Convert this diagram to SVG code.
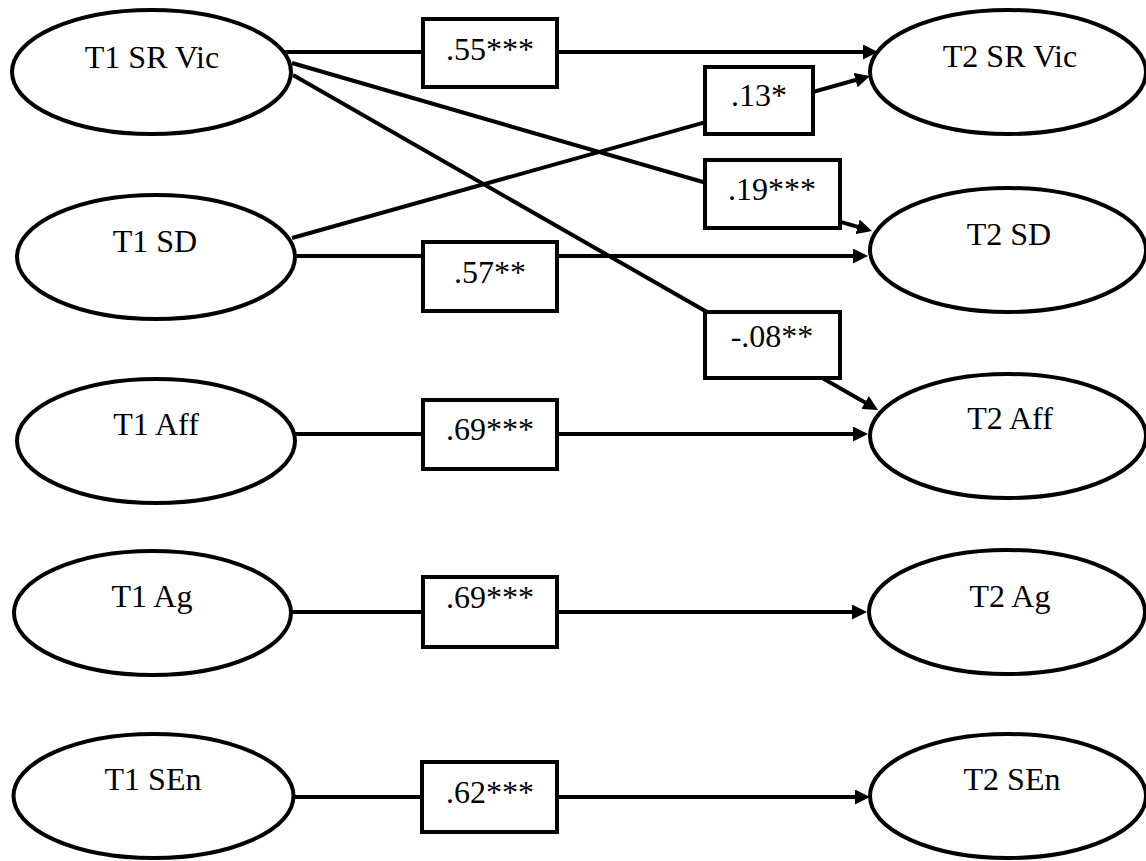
<svg xmlns="http://www.w3.org/2000/svg" width="1146" height="861" viewBox="0 0 1146 861">
<style>
.node{fill:#fff;stroke:#000;stroke-width:4}
.lbl{fill:#fff;stroke:#000;stroke-width:4}
.edge{stroke:#000;stroke-width:4;fill:none}
.t{font-family:'Liberation Serif','Times New Roman',Times,serif;font-size:32px;fill:#000;text-anchor:middle}
</style>
<defs>
<marker id="arr" viewBox="0 0 15 15" refX="1" refY="7.5" markerWidth="15" markerHeight="15" markerUnits="userSpaceOnUse" orient="auto">
<path d="M0,0 L15,7.5 L0,15 z" fill="#000"/>
</marker>
</defs>
<g id="connectors">
<line class="edge" x1="284" y1="52" x2="864" y2="52" marker-end="url(#arr)"/>
<line class="edge" x1="292" y1="63" x2="858.6" y2="227.1" marker-end="url(#arr)"/>
<line class="edge" x1="293" y1="75" x2="865.9" y2="403" marker-end="url(#arr)"/>
<line class="edge" x1="292" y1="238" x2="856.5" y2="79.8" marker-end="url(#arr)"/>
<line class="edge" x1="295" y1="256" x2="854" y2="256" marker-end="url(#arr)"/>
<line class="edge" x1="295" y1="434" x2="854" y2="434" marker-end="url(#arr)"/>
<line class="edge" x1="291" y1="612" x2="853" y2="612" marker-end="url(#arr)"/>
<line class="edge" x1="294" y1="797" x2="856" y2="797" marker-end="url(#arr)"/>
</g>
<g id="edge-labels">
<g id="lbl-55"><rect class="lbl" x="423" y="19" width="134" height="68"/><text class="t" x="490" y="60">.55***</text></g>
<g id="lbl-13"><rect class="lbl" x="705" y="67" width="108" height="67"/><text class="t" x="759" y="106">.13*</text></g>
<g id="lbl-19"><rect class="lbl" x="705" y="160" width="135" height="68"/><text class="t" x="772" y="200">.19***</text></g>
<g id="lbl-57"><rect class="lbl" x="423" y="242" width="134" height="69"/><text class="t" x="490" y="283">.57**</text></g>
<g id="lbl-08"><rect class="lbl" x="705" y="312" width="135" height="66"/><text class="t" x="772" y="347">-.08**</text></g>
<g id="lbl-69a"><rect class="lbl" x="423" y="400" width="134" height="69"/><text class="t" x="490" y="440">.69***</text></g>
<g id="lbl-69b"><rect class="lbl" x="423" y="577" width="134" height="70"/><text class="t" x="490" y="608">.69***</text></g>
<g id="lbl-62"><rect class="lbl" x="422" y="762" width="135" height="70"/><text class="t" x="490" y="803">.62***</text></g>
</g>
<g id="T1-SR-Vic"><ellipse class="node" cx="151.5" cy="72" rx="139.5" ry="62"/><text class="t" x="152" y="68">T1 SR Vic</text></g>
<g id="T1-SD"><ellipse class="node" cx="156" cy="257" rx="139" ry="62"/><text class="t" x="155" y="252">T1 SD</text></g>
<g id="T1-Aff"><ellipse class="node" cx="156" cy="441" rx="139" ry="62"/><text class="t" x="156" y="435">T1 Aff</text></g>
<g id="T1-Ag"><ellipse class="node" cx="152.5" cy="613" rx="138.5" ry="62"/><text class="t" x="152" y="607">T1 Ag</text></g>
<g id="T1-SEn"><ellipse class="node" cx="153.5" cy="796" rx="140" ry="62"/><text class="t" x="153" y="790">T1 SEn</text></g>
<g id="T2-SR-Vic"><ellipse class="node" cx="1008" cy="72" rx="138" ry="62"/><text class="t" x="1010" y="67">T2 SR Vic</text></g>
<g id="T2-SD"><ellipse class="node" cx="1008" cy="250" rx="138" ry="62"/><text class="t" x="1009" y="245">T2 SD</text></g>
<g id="T2-Aff"><ellipse class="node" cx="1008" cy="436" rx="138" ry="62"/><text class="t" x="1010" y="429">T2 Aff</text></g>
<g id="T2-Ag"><ellipse class="node" cx="1007" cy="612" rx="138" ry="62"/><text class="t" x="1010" y="607">T2 Ag</text></g>
<g id="T2-SEn"><ellipse class="node" cx="1008" cy="796" rx="138" ry="62"/><text class="t" x="1012" y="790">T2 SEn</text></g>
</svg>
